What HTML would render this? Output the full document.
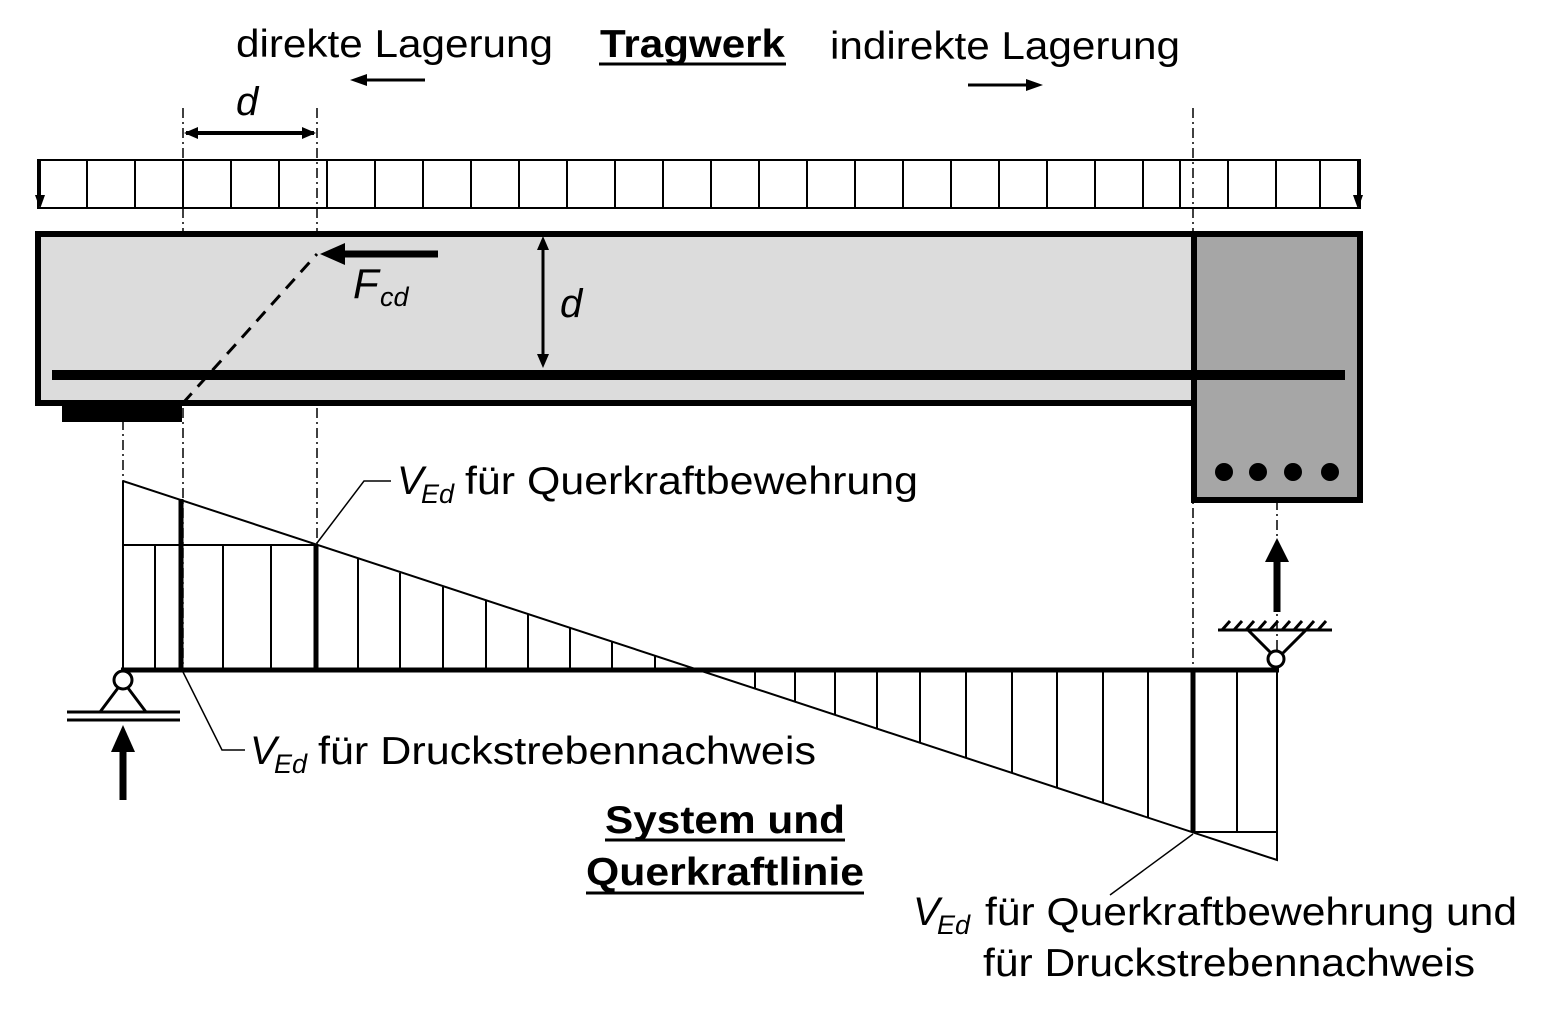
<!DOCTYPE html>
<html><head><meta charset="utf-8"><style>
html,body{margin:0;padding:0;background:#fff;}
svg{display:block;}
text{font-family:"Liberation Sans",Arial,sans-serif;fill:#000;}
</style></head><body>
<svg width="1547" height="1016" viewBox="0 0 1547 1016" xmlns="http://www.w3.org/2000/svg">
<!-- top texts -->
<text x="236" y="57" font-size="39" textLength="317" lengthAdjust="spacingAndGlyphs">direkte Lagerung</text>
<text x="600" y="57" font-size="39" font-weight="bold" textLength="185" lengthAdjust="spacingAndGlyphs">Tragwerk</text>
<line x1="599" y1="64" x2="786" y2="64" stroke="#000" stroke-width="3"/>
<text x="830" y="59" font-size="39" textLength="350" lengthAdjust="spacingAndGlyphs">indirekte Lagerung</text>
<line x1="425" y1="80" x2="365" y2="80" stroke="#000" stroke-width="3"/>
<path d="M350,80 L367,74 L367,86 z"/>
<line x1="968" y1="85" x2="1028" y2="85" stroke="#000" stroke-width="3"/>
<path d="M1043,85 L1026,79 L1026,91 z"/>

<!-- dash-dot lines -->
<g stroke="#000" stroke-width="1.5" stroke-dasharray="10,4,2,4" fill="none">
<line x1="183" y1="108" x2="183" y2="670"/>
<line x1="317" y1="108" x2="317" y2="545"/>
<line x1="123" y1="420" x2="123" y2="482"/>
<line x1="1193" y1="108" x2="1193" y2="670"/>
<line x1="1277" y1="500" x2="1277" y2="668"/>
</g>

<!-- d dim top -->
<text x="236" y="115" font-size="40" font-style="italic">d</text>
<line x1="186" y1="133" x2="314" y2="133" stroke="#000" stroke-width="4"/>
<path d="M184,133 L198,127 L198,139 z"/><path d="M316,133 L302,127 L302,139 z"/>

<!-- load block -->
<g stroke="#000" stroke-width="2" fill="none">
<rect x="38" y="160" width="1322" height="48"/>
<path d="M87,160V208M135,160V208M183,160V208M231,160V208M279,160V208M327,160V208M375,160V208M423,160V208M471,160V208M519,160V208M567,160V208M615,160V208M663,160V208M711,160V208M759,160V208M807,160V208M855,160V208M903,160V208M951,160V208M999,160V208M1047,160V208M1095,160V208M1143,160V208M1180,160V208M1228,160V208M1276,160V208M1320,160V208"/>
<line x1="40" y1="160" x2="40" y2="200"/><line x1="1358" y1="160" x2="1358" y2="200"/>
</g>
<path d="M35,195 L45,195 L40,209 z"/><path d="M1353,195 L1363,195 L1358,209 z"/>

<!-- beam -->
<rect x="38" y="234" width="1157" height="169" fill="#dcdcdc" stroke="#000" stroke-width="6"/>
<rect x="1194" y="234" width="166" height="266" fill="#a6a6a6" stroke="#000" stroke-width="6"/>
<line x1="52" y1="375" x2="1345" y2="375" stroke="#000" stroke-width="10"/>
<rect x="62" y="403" width="120" height="19" fill="#000"/>
<line x1="183" y1="403" x2="317" y2="254" stroke="#000" stroke-width="3" stroke-dasharray="13,9"/>
<g fill="#000"><circle cx="1224" cy="472" r="9"/><circle cx="1258" cy="472" r="9"/><circle cx="1293" cy="472" r="9"/><circle cx="1330" cy="472" r="9"/></g>
<!-- Fcd -->
<line x1="438" y1="254" x2="340" y2="254" stroke="#000" stroke-width="7"/>
<path d="M320,254 L345,243 L345,265 z"/>
<text x="353" y="298" font-size="42" font-style="italic">F</text>
<text x="380" y="306" font-size="27" font-style="italic">cd</text>
<!-- d vertical -->
<line x1="543" y1="248" x2="543" y2="356" stroke="#000" stroke-width="3"/>
<path d="M543,236 L537,250 L549,250 z"/><path d="M543,368 L537,354 L549,354 z"/>
<text x="560" y="317" font-size="40" font-style="italic">d</text>

<!-- shear diagram -->
<g stroke="#000" stroke-width="2" fill="none">
<path d="M123,481 L1277,860 L1277,670"/>
<line x1="123" y1="481" x2="123" y2="670"/>
<line x1="123" y1="545" x2="317" y2="545"/>
<line x1="1193" y1="832" x2="1277" y2="832"/>
<path d="M155,545V670M223,545V670M271,545V670"/>
<path d="M358,559V670M400,573V670M443,587V670M486,601V670M528,614V670M570,628V670M612,642V670M655,656V670"/>
<path d="M755,670V689M795,670V702M835,670V715M877,670V729M920,670V743M966,670V758M1012,670V773M1057,670V787M1103,670V803M1148,670V817M1237,670V832"/>
</g>
<g stroke="#000" stroke-width="5">
<line x1="181" y1="499" x2="181" y2="670"/>
<line x1="316" y1="545" x2="316" y2="670"/>
<line x1="1193" y1="670" x2="1193" y2="832"/>
<line x1="121" y1="670" x2="1279" y2="670"/>
</g>

<!-- leaders -->
<g stroke="#000" stroke-width="1.5" fill="none">
<path d="M317,543 L364,481 L391,481"/>
<path d="M183,672 L222,750 L245,750"/>
<path d="M1193,834 L1110,895"/>
</g>
<text x="397" y="494" font-size="40" font-style="italic">V</text>
<text x="421" y="503" font-size="27" font-style="italic">Ed</text>
<text x="465" y="494" font-size="39" textLength="453" lengthAdjust="spacingAndGlyphs">für Querkraftbewehrung</text>

<text x="250" y="764" font-size="40" font-style="italic">V</text>
<text x="274" y="773" font-size="27" font-style="italic">Ed</text>
<text x="318" y="764" font-size="39" textLength="498" lengthAdjust="spacingAndGlyphs">für Druckstrebennachweis</text>

<text x="913" y="925" font-size="40" font-style="italic">V</text>
<text x="937" y="934" font-size="27" font-style="italic">Ed</text>
<text x="985" y="925" font-size="39" textLength="532" lengthAdjust="spacingAndGlyphs">für Querkraftbewehrung und</text>
<text x="983" y="976" font-size="39" textLength="492" lengthAdjust="spacingAndGlyphs">für Druckstrebennachweis</text>

<text x="605" y="833" font-size="39" font-weight="bold" textLength="240" lengthAdjust="spacingAndGlyphs">System und</text>
<line x1="605" y1="840" x2="845" y2="840" stroke="#000" stroke-width="3"/>
<text x="586" y="885" font-size="39" font-weight="bold" textLength="278" lengthAdjust="spacingAndGlyphs">Querkraftlinie</text>
<line x1="586" y1="893" x2="864" y2="893" stroke="#000" stroke-width="3"/>

<!-- left support -->
<g stroke="#000" stroke-width="3" fill="none">
<path d="M100,712 L118,688 M146,712 L128,688"/>
<line x1="67" y1="712" x2="180" y2="712"/>
<line x1="67" y1="720" x2="180" y2="720"/>
</g>
<circle cx="123" cy="680" r="9" fill="#fff" stroke="#000" stroke-width="3"/>
<line x1="123" y1="800" x2="123" y2="750" stroke="#000" stroke-width="7"/>
<path d="M123,725 L111,752 L135,752 z"/>

<!-- right support -->
<g stroke="#000" stroke-width="3" fill="none">
<path d="M1248,630 L1271,653 M1306,630 L1283,653"/>
<line x1="1218" y1="630" x2="1332" y2="630"/>
<path d="M1222,630l8,-9M1234,630l8,-9M1246,630l8,-9M1258,630l8,-9M1270,630l8,-9M1282,630l8,-9M1294,630l8,-9M1306,630l8,-9M1318,630l8,-9"/>
</g>
<circle cx="1276" cy="659" r="8" fill="#fff" stroke="#000" stroke-width="3"/>
<line x1="1277" y1="612" x2="1277" y2="560" stroke="#000" stroke-width="7"/>
<path d="M1277,538 L1265,562 L1289,562 z"/>
</svg>
</body></html>
